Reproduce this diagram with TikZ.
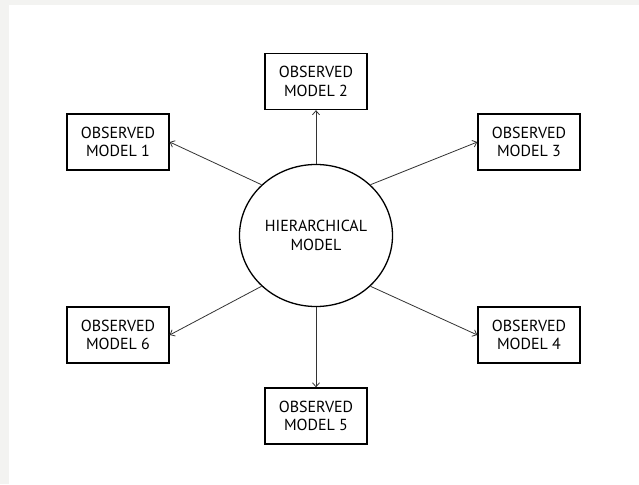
\documentclass[tikz,border=0pt]{standalone}
\usepackage{fontspec}
\setmainfont{PT Sans}
\usetikzlibrary{arrows.meta,shapes.geometric}
\definecolor{bggray}{HTML}{F3F3F1}
\definecolor{linegray}{HTML}{333333}
\tikzset{
  obsbox/.style={draw=black, line width=1.3pt, fill=white, minimum width=102pt, minimum height=56pt,
    inner sep=0pt, align=center, font=\fontsize{16}{18.5}\selectfont, text=black},
  hierell/.style={ellipse, draw=black, line width=1.3pt, minimum width=153pt, minimum height=142pt,
    inner sep=0pt, align=center, font=\fontsize{16}{18.5}\selectfont, text=black},
  conn/.style={draw=linegray, line width=0.8pt, -{Straight Barb[length=4pt,width=7pt]}}
}
\begin{document}
\begin{tikzpicture}[x=1pt,y=-1pt]
\useasboundingbox (0,0) rectangle (639,484);
\fill[bggray] (0,0) rectangle (639,484);
\fill[white] (9,5) rectangle (639,484);
\node[hierell] (hm) at (316,235.5) {HIERARCHICAL\\MODEL};
\node[obsbox] (b1) at (118,142) {OBSERVED\\MODEL 1};
\node[obsbox] (b2) at (316,81.5) {OBSERVED\\MODEL 2};
\node[obsbox] (b3) at (529,142) {OBSERVED\\MODEL 3};
\node[obsbox] (b4) at (529,335) {OBSERVED\\MODEL 4};
\node[obsbox] (b5) at (316,416) {OBSERVED\\MODEL 5};
\node[obsbox] (b6) at (118,335) {OBSERVED\\MODEL 6};
\draw[conn] (hm.137) -- (b1.east);
\draw[conn] (hm.north) -- (b2.south);
\draw[conn] (hm.43) -- (b3.west);
\draw[conn] (hm.-43) -- (b4.west);
\draw[conn] (hm.south) -- (b5.north);
\draw[conn] (hm.-137) -- (b6.east);
\end{tikzpicture}
\end{document}
